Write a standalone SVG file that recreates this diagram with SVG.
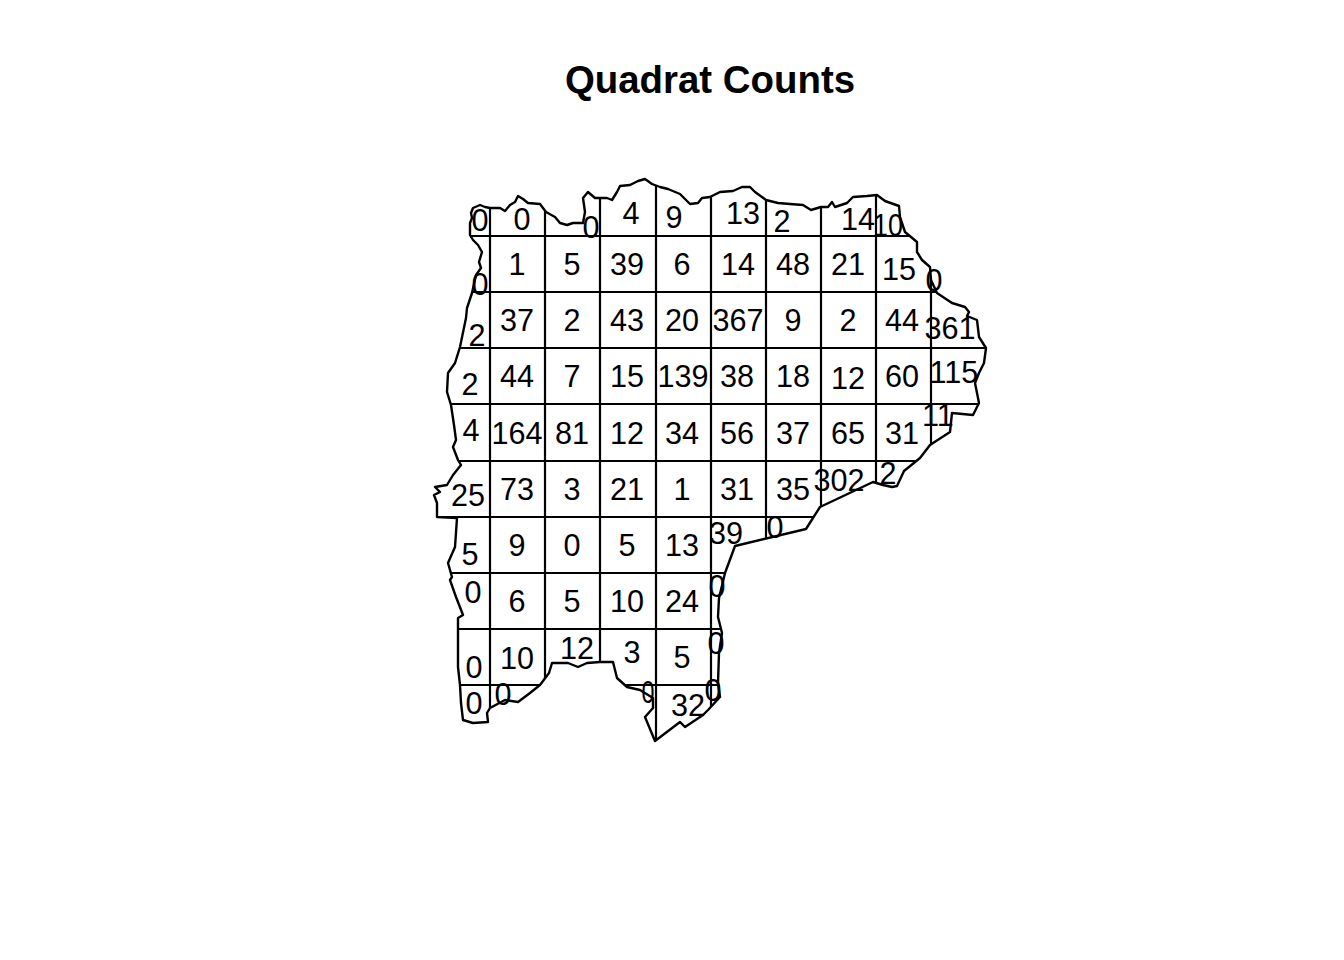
<svg xmlns="http://www.w3.org/2000/svg" width="1344" height="960" viewBox="0 0 1344 960">
<style>
text{font-family:"Liberation Sans",Arial,sans-serif;fill:#000;text-anchor:middle}
.t{font-size:38.4px;font-weight:bold}
.c{font-size:30.6px}
.g{stroke:#000;stroke-width:2.2;fill:none}
.o{stroke:#000;stroke-width:2.4;fill:none;stroke-linejoin:round}
</style>
<defs>
<clipPath id="win"><path id="ow" d="M470 235L470 223L472 218L471 213L473 208L480 205L485 207L490 208L500 208L505 211L510 205L515 202L518 196L523 199L528 203L540 204L546 212L555 217L560 223L567 225L573 223L583 223L585 212L583 198L588 192L595 198L602 198L607 198L612 200L617 192L620 186L630 185L638 181L645 179L652 184L660 187L668 189L680 194L685 199L690 204L698 203L702 198L710 197L720 192L733 191L742 187L750 187L755 192L766 200L778 203L790 204L803 205L811 210L821 207L828 207L832 202L835 207L847 203L853 197L867 196L877 195L885 201L899 206L900 217L905 232L917 242L917 252L922 260L930 267L931 280L937 293L952 303L965 307L969 312L967 316L977 320L979 337L986 348L984 363L979 373L975 383L979 403L973 415L952 413L950 432L930 445L920 458L904 471L897 486L892 487L883 485L873 482L820 507L806 529L735 546L725 573L719 598L718 617L722 633L719 653L718 683L720 697L708 710L703 715L685 727L680 722L655 741L645 717L653 708L653 698L640 690L627 687L617 678L613 662L600 662L587 663L578 667L568 663L552 663L549 673L540 685L530 693L518 702L505 700L490 708L487 713L488 722L473 723L463 720L461 703L460 685L458 667L458 630L458 618L463 615L456 597L450 580L452 577L448 563L455 547L457 518L437 517L437 503L434 495L440 492L435 487L447 485L453 475L461 465L458 460L453 447L456 440L454 425L451 405L447 392L448 373L455 363L460 347L466 318L467 308L472 293L476 275L481 268L479 262L482 252L478 245L473 240Z"/></clipPath>
</defs>
<g id="title"><text class="t" x="710" y="93">Quadrat Counts</text></g>
<g id="grid" clip-path="url(#win)">
<path class="g" d="M490 170V750M545 170V750M600 170V750M656 170V750M711 170V750M766 170V750M821 170V750M876 170V750M931 170V750M430 236H990M430 292H990M430 348H990M430 404H990M430 461H990M430 517H990M430 573H990M430 629H990M430 685H990"/>
</g>
<g id="outline"><use href="#ow" class="o"/></g>
<g id="counts" class="c">
<text x="480" y="231">0</text>
<text x="522" y="230">0</text>
<text x="591" y="238">0</text>
<text x="631" y="224">4</text>
<text x="674" y="228">9</text>
<text x="743" y="224">13</text>
<text x="782" y="232">2</text>
<text x="858" y="230">14</text>
<text x="888" y="236" textLength="30" lengthAdjust="spacingAndGlyphs">10</text>
<text x="517" y="275">1</text>
<text x="572" y="275">5</text>
<text x="627" y="275">39</text>
<text x="682" y="275">6</text>
<text x="738" y="275">14</text>
<text x="793" y="275">48</text>
<text x="848" y="275">21</text>
<text x="899" y="280">15</text>
<text x="934" y="291">0</text>
<text x="480" y="295">0</text>
<text x="477" y="346">2</text>
<text x="517" y="331">37</text>
<text x="572" y="331">2</text>
<text x="627" y="331">43</text>
<text x="682" y="331">20</text>
<text x="738" y="331">367</text>
<text x="793" y="331">9</text>
<text x="848" y="331">2</text>
<text x="902" y="331">44</text>
<text x="950" y="339">361</text>
<text x="470" y="395">2</text>
<text x="517" y="387">44</text>
<text x="572" y="387">7</text>
<text x="627" y="387">15</text>
<text x="683" y="387">139</text>
<text x="737" y="387">38</text>
<text x="793" y="387">18</text>
<text x="848" y="389">12</text>
<text x="902" y="387">60</text>
<text x="954" y="383">115</text>
<text x="471" y="441">4</text>
<text x="517" y="444">164</text>
<text x="572" y="444">81</text>
<text x="627" y="444">12</text>
<text x="682" y="444">34</text>
<text x="737" y="444">56</text>
<text x="793" y="444">37</text>
<text x="848" y="444">65</text>
<text x="902" y="444">31</text>
<text x="938" y="426">11</text>
<text x="468" y="506">25</text>
<text x="517" y="500">73</text>
<text x="572" y="500">3</text>
<text x="627" y="500">21</text>
<text x="682" y="500">1</text>
<text x="737" y="500">31</text>
<text x="793" y="500">35</text>
<text x="839" y="491">302</text>
<text x="888" y="484">2</text>
<text x="470" y="565">5</text>
<text x="517" y="556">9</text>
<text x="572" y="556">0</text>
<text x="627" y="556">5</text>
<text x="682" y="556">13</text>
<text x="726" y="544">39</text>
<text x="775" y="538">0</text>
<text x="473" y="603">0</text>
<text x="517" y="612">6</text>
<text x="572" y="612">5</text>
<text x="627" y="612">10</text>
<text x="682" y="612">24</text>
<text x="717" y="597">0</text>
<text x="474" y="678">0</text>
<text x="517" y="669">10</text>
<text x="577" y="659">12</text>
<text x="632" y="663">3</text>
<text x="682" y="668">5</text>
<text x="716" y="654">0</text>
<text x="474" y="714">0</text>
<text x="503" y="705">0</text>
<text x="648" y="703" textLength="13" lengthAdjust="spacingAndGlyphs">0</text>
<text x="688" y="716">32</text>
<text x="713" y="701">0</text>
</g>
</svg>
